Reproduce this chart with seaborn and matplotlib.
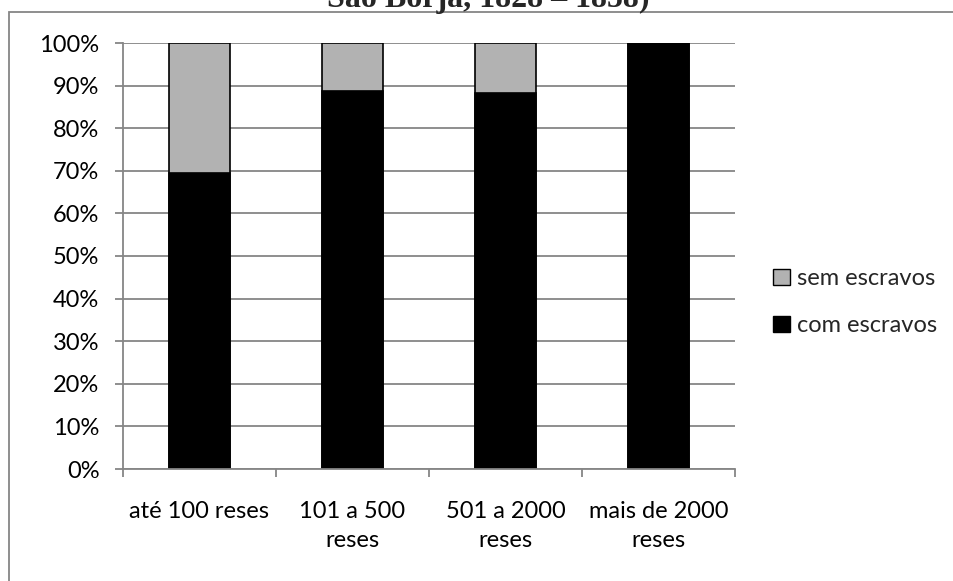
import matplotlib
matplotlib.use("Agg")
import matplotlib.pyplot as plt
import seaborn as sns
import pandas as pd
from matplotlib.patches import Patch, Rectangle
from matplotlib.ticker import PercentFormatter

categories = ["até 100 reses", "101 a 500\nreses", "501 a 2000\nreses", "mais de 2000\nreses"]
com_escravos = [0.694, 0.887, 0.882, 1.0]
sem_escravos = [0.306, 0.113, 0.118, 0.0]
legend_labels = ["sem escravos", "com escravos"]
title_text = "São Borja, 1828 – 1858)"

df = pd.DataFrame({"cat": categories, "com": com_escravos, "sem": sem_escravos})
df["total"] = df["com"] + df["sem"]

sns.set_theme(style="white")
plt.rcParams["font.family"] = ["Lato", "DejaVu Sans"]

fig = plt.figure(figsize=(9.54, 5.81), dpi=100)
W, H = 954, 581
ax = fig.add_axes([123 / W, (H - 469) / H, (735 - 123) / W, (469 - 43) / H])

grey = "#b2b2b2"
sns.barplot(data=df, x="cat", y="total", color=grey, edgecolor="black", linewidth=1.2,
            width=0.4, saturation=1, ax=ax)
sns.barplot(data=df, x="cat", y="com", color="black", edgecolor="black", linewidth=1.2,
            width=0.4, saturation=1, ax=ax)

ax.set_ylim(0, 1)
ax.set_xlim(-0.5, len(categories) - 0.5)
ax.set_yticks([i / 10 for i in range(11)])
ax.yaxis.set_major_formatter(PercentFormatter(1.0, decimals=0))
ax.yaxis.grid(True, color="#868686", linewidth=1.3)
ax.set_axisbelow(True)
ax.set_xlabel("")
ax.set_ylabel("")

for s in ["top", "right"]:
    ax.spines[s].set_visible(False)
for s in ["left", "bottom"]:
    ax.spines[s].set_color("#868686")
    ax.spines[s].set_linewidth(1.3)

ax.tick_params(axis="y", which="both", left=True, length=6, width=1.3, color="#868686",
               labelsize=17, labelcolor="black", pad=11)
ax.set_xticks(range(len(categories)))
ax.set_xticklabels(categories, fontsize=17, color="black", linespacing=1.5)
ax.tick_params(axis="x", which="major", bottom=False, length=0, pad=23)
ax.set_xticks([i - 0.5 for i in range(len(categories) + 1)], minor=True)
ax.tick_params(axis="x", which="minor", bottom=True, length=6, width=1.3, color="#868686")

handles = [Patch(facecolor=grey, edgecolor="black", linewidth=1.0, label=legend_labels[0]),
           Patch(facecolor="black", edgecolor="black", linewidth=1.0, label=legend_labels[1])]
fig.legend(handles=handles, loc="center left", bbox_to_anchor=(773 / W, 1 - 302 / H),
           frameon=False, fontsize=17, handlelength=0.72, handleheight=0.65,
           handletextpad=0.3, labelspacing=1.1, borderaxespad=0, borderpad=0)

fig.patches.append(Rectangle((9 / W, -0.1), 1.2, 1 - 12 / H + 0.1, transform=fig.transFigure,
                             facecolor="none", edgecolor="#868686", linewidth=1.3, zorder=0))

fig.text(488 / W, 1 - 7 / H, title_text, ha="center", va="baseline", fontsize=23,
         fontweight="bold", family=["Liberation Serif", "DejaVu Serif"])

fig.savefig("out.png", dpi=100)
